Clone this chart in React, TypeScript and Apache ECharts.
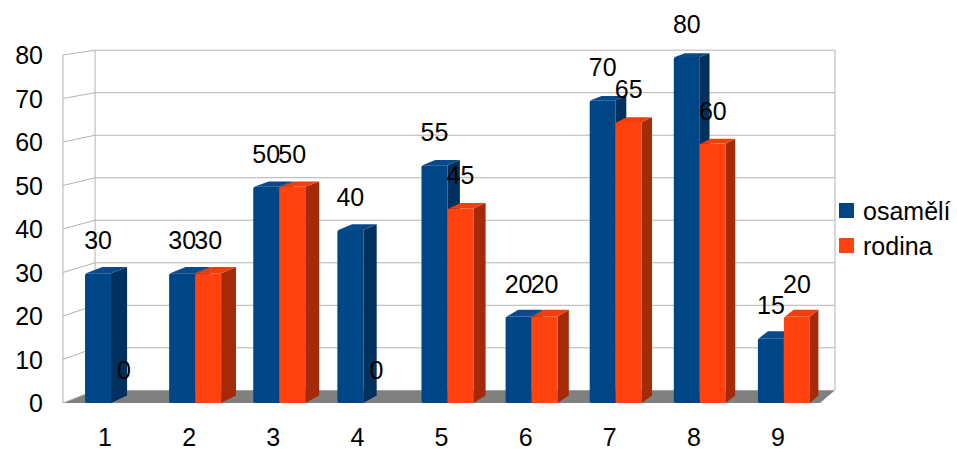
import { useEffect, useRef } from "react";
import * as echarts from "echarts";

// Categories and series values
const categories = ["1", "2", "3", "4", "5", "6", "7", "8", "9"];
const osameli = [30, 30, 50, 40, 55, 20, 70, 80, 15];
const rodina = [0, 30, 50, 0, 45, 20, 65, 60, 20];
const yTicks = [0, 10, 20, 30, 40, 50, 60, 70, 80];

const FONT = '"Liberation Sans", Arial, sans-serif';
const GRID_COLOR = "#b3b3b3";

// Perspective helpers: push a point on the front plane back toward the vanishing point
const wallProj = (x: number, y: number): number[] => [
  x + 0.0225 * (1488 - x),
  y + 0.0225 * (-160 - y),
];
const barProj = (x: number, y: number): number[] => [
  x + 0.0108 * (1598 - x),
  y + 0.0108 * (-300 - y),
];

type Faces = { front: string; side: string; top: string };

const blueFaces: Faces = { front: "#004586", side: "#00305e", top: "#0a4a8a" };
const orangeFaces: Faces = { front: "#ff420e", side: "#a52a08", top: "#ee3f0c" };

// Draws one 3D column (front, right side, top) plus its value label
const makeBarRender =
  (offL: number, offR: number, faces: Faces) => (_params: any, api: any) => {
    const idx = api.value(0);
    const v = api.value(1);
    const band = api.size([1, 0])[0];
    const [cx, yt] = api.coord([idx, v]);
    const yb = api.coord([idx, 0])[1];
    const x0 = cx + offL * band;
    const x1 = cx + offR * band;
    const children: any[] = [];
    if (v > 0) {
      const tr = barProj(x1, yt);
      const br = barProj(x1, yb);
      const tl = barProj(x0, yt);
      children.push({
        type: "polygon",
        shape: { points: [[x1, yt], [x1, yb], br, tr] },
        style: { fill: faces.side },
      });
      children.push({
        type: "polygon",
        shape: { points: [[x0 + 1, yt], [x1, yt], tr, [tl[0] + 1, tl[1]]] },
        style: { fill: faces.top },
      });
      children.push({
        type: "rect",
        shape: { x: x0, y: yt, width: x1 - x0, height: yb - yt, r: [2, 0, 0, 2] },
        style: { fill: faces.front },
      });
    }
    children.push({
      type: "text",
      x: (x0 + x1) / 2,
      y: yt - 33,
      z2: 100,
      style: {
        text: String(v),
        fill: "#000",
        fontSize: 25,
        fontFamily: FONT,
        align: "center",
        verticalAlign: "middle",
      },
    });
    return { type: "group", children };
  };

// Back wall, side ticks and floor
const renderWall = (params: any, api: any) => {
  const cs = params.coordSys;
  const L = cs.x;
  const R = cs.x + cs.width;
  const T = cs.y;
  const B = cs.y + cs.height;
  const y = api.coord([0, api.value(1)])[1];
  const line = (a: number[], b: number[]) => ({
    type: "line",
    shape: { x1: a[0], y1: a[1], x2: b[0], y2: b[1] },
    style: { stroke: GRID_COLOR, lineWidth: 1 },
  });
  const children: any[] = [];
  if (params.dataIndex === 0) {
    children.push({
      type: "polygon",
      shape: { points: [[L, B], [R, B], wallProj(R, B), wallProj(L, B)] },
      style: { fill: "#808080" },
    });
    children.push(line([L, T], [L, B]));
    children.push(line(wallProj(L, T), wallProj(L, B)));
    children.push(line(wallProj(R, T), wallProj(R, B)));
  }
  children.push(line([L, y], wallProj(L, y)));
  if (api.value(1) > 0) children.push(line(wallProj(L, y), wallProj(R, y)));
  return { type: "group", children };
};

export default function App() {
  const ref = useRef<HTMLDivElement>(null);

  useEffect(() => {
    document.body.style.margin = "0";
    if (!ref.current) return;
    const chart = echarts.init(ref.current, null, { renderer: "svg" });
    chart.setOption({
      animation: false,
      backgroundColor: "#ffffff",
      textStyle: { fontFamily: FONT },
      grid: [
        { left: 63, top: 55, width: 757, height: 352 },
        { left: 63, top: 57, width: 757, height: 346 },
      ],
      legend: {
        orient: "vertical",
        left: 839,
        top: 198,
        padding: 0,
        icon: "rect",
        itemWidth: 15,
        itemHeight: 15,
        itemGap: 10,
        selectedMode: false,
        data: ["osamělí", "rodina"],
        textStyle: {
          fontSize: 25,
          fontFamily: FONT,
          color: "#000",
          lineHeight: 25,
          padding: [0, 0, 0, 4],
        },
      },
      xAxis: [
        {
          gridIndex: 0,
          type: "category",
          data: categories,
          axisLine: { show: false },
          axisTick: { show: false },
          splitLine: { show: false },
          axisLabel: { fontSize: 25, color: "#000", margin: 21, fontFamily: FONT },
        },
        { gridIndex: 1, type: "category", data: categories, show: false },
      ],
      yAxis: [
        {
          gridIndex: 0,
          type: "value",
          min: 0,
          max: 80,
          interval: 10,
          axisLine: { show: false },
          axisTick: { show: false },
          splitLine: { show: false },
          axisLabel: { fontSize: 25, color: "#000", margin: 20, fontFamily: FONT },
        },
        { gridIndex: 1, type: "value", min: 0, max: 80, interval: 10, show: false },
      ],
      series: [
        {
          type: "custom",
          name: "wall",
          xAxisIndex: 0,
          yAxisIndex: 0,
          z: 1,
          silent: true,
          renderItem: renderWall,
          data: yTicks.map((v) => [0, v]),
        },
        {
          type: "custom",
          name: "osamělí",
          xAxisIndex: 1,
          yAxisIndex: 1,
          z: 2,
          silent: true,
          itemStyle: { color: blueFaces.front },
          renderItem: makeBarRender(-0.238, 0.071, blueFaces),
          encode: { x: 0, y: 1 },
          data: osameli.map((v, i) => [i, v]),
        },
        {
          type: "custom",
          name: "rodina",
          xAxisIndex: 1,
          yAxisIndex: 1,
          z: 2,
          silent: true,
          itemStyle: { color: orangeFaces.front },
          renderItem: makeBarRender(0.071, 0.38, orangeFaces),
          encode: { x: 0, y: 1 },
          data: rodina.map((v, i) => [i, v]),
        },
      ],
    });
    return () => chart.dispose();
  }, []);

  return <div ref={ref} style={{ width: 957, height: 449 }} />;
}
